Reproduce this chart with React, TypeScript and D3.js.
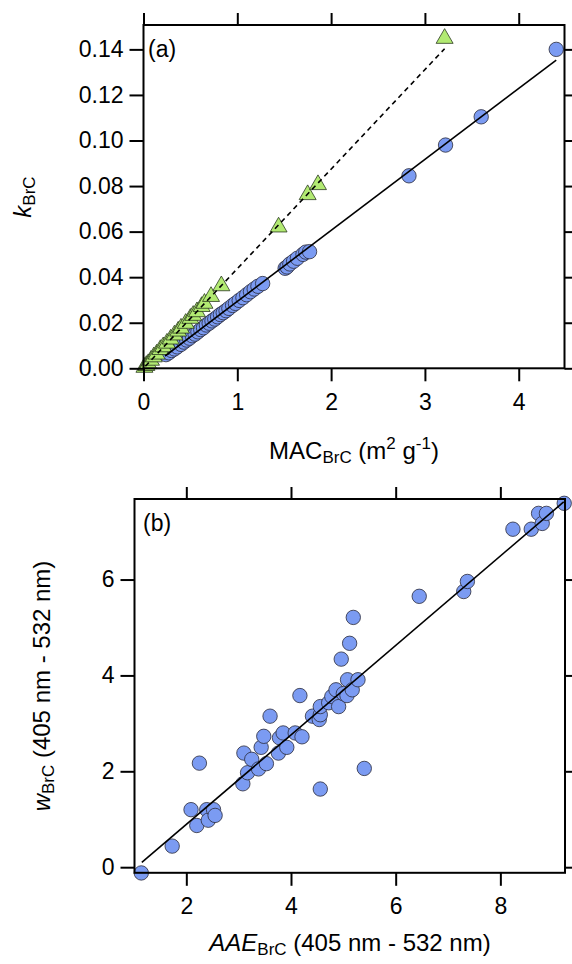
import React, { useEffect, useRef } from 'react';
import * as d3 from 'd3';

// panel (a): MAC_BrC vs k_BrC, circles
const macCircles = [0.24, 0.27, 0.30, 0.33, 0.36, 0.40, 0.43, 0.46, 0.49, 0.52, 0.55, 0.58, 0.61, 0.64, 0.67, 0.70, 0.73, 0.76, 0.79, 0.82, 0.85, 0.88, 0.91, 0.95, 0.98, 1.02, 1.06, 1.10, 1.14, 1.18, 1.22, 1.27, 1.51, 1.53, 1.56, 1.60, 1.64, 1.70, 1.73, 1.77, 2.83, 3.22, 3.60, 4.40];
const kCircles = [0.0060, 0.0068, 0.0078, 0.0085, 0.0094, 0.0105, 0.0115, 0.0124, 0.0132, 0.0143, 0.0150, 0.0160, 0.0170, 0.0178, 0.0190, 0.0198, 0.0208, 0.0216, 0.0226, 0.0236, 0.0244, 0.0253, 0.0263, 0.0276, 0.0285, 0.0298, 0.0310, 0.0323, 0.0336, 0.0348, 0.0360, 0.0372, 0.0439, 0.0445, 0.0458, 0.0470, 0.0483, 0.0500, 0.0510, 0.0512, 0.0845, 0.0980, 0.1104, 0.1400];

// panel (a): triangles
const macTri = [0.01, 0.03, 0.05, 0.08, 0.11, 0.14, 0.18, 0.21, 0.25, 0.29, 0.33, 0.37, 0.40, 0.45, 0.50, 0.53, 0.57, 0.62, 0.65, 0.72, 0.83, 1.44, 1.75, 1.86, 3.21];
const kTri = [0.0004, 0.0012, 0.0020, 0.0035, 0.0050, 0.0062, 0.0082, 0.0094, 0.0110, 0.0128, 0.0146, 0.0163, 0.0176, 0.0197, 0.0219, 0.0232, 0.0248, 0.0271, 0.0285, 0.0315, 0.0362, 0.0620, 0.0762, 0.0806, 0.1448];

// fit lines (start / end)
const fitCirclesA = [[0.23, 0.0054], [4.40, 0.1353]];
const fitTriA = [[0.02, 0.0009], [3.21, 0.1403]];

// panel (b): AAE_BrC vs w_BrC
const aae = [1.14, 1.73, 2.20, 2.09, 2.39, 2.42, 2.52, 2.55, 2.25, 3.08, 3.10, 3.17, 3.25, 3.38, 3.43, 3.48, 3.53, 3.60, 3.76, 3.78, 3.85, 3.92, 4.08, 4.17, 4.21, 4.41, 4.54, 4.56, 4.56, 4.56, 4.72, 4.78, 4.86, 4.91, 4.96, 5.00, 5.07, 5.08, 5.12, 5.17, 5.19, 5.28, 5.40, 6.45, 7.30, 7.37, 8.24, 8.59, 8.73, 8.80, 8.88, 9.22];
const wBrC = [-0.12, 0.44, 0.87, 1.20, 1.20, 0.98, 1.20, 1.08, 2.17, 1.74, 2.38, 1.97, 2.25, 2.05, 2.50, 2.73, 2.16, 3.15, 2.38, 2.70, 2.80, 2.50, 2.80, 3.58, 2.72, 3.15, 3.08, 3.18, 3.35, 1.63, 3.43, 3.56, 3.70, 3.35, 4.34, 3.62, 3.58, 3.91, 4.67, 3.70, 5.21, 3.91, 2.06, 5.65, 5.75, 5.96, 7.05, 7.05, 7.38, 7.17, 7.38, 7.59];
const fitB = [[1.15, 0.10], [9.21, 7.62]];

const ticksAX = [0, 1, 2, 3, 4];
const ticksAY = [0, 0.02, 0.04, 0.06, 0.08, 0.10, 0.12, 0.14];
const ticksBX = [2, 4, 6, 8];
const ticksBY = [0, 2, 4, 6];

const FONT = '"Liberation Sans", Arial, Helvetica, sans-serif';
const BLUE = '#7b9bf2';
const GREEN = '#b2ea72';

const App = () => {
  const svgRef = useRef<SVGSVGElement>(null);

  useEffect(() => {
    const svg = d3.select(svgRef.current);
    svg.selectAll('*').remove();
    svg.style('font-family', FONT);

    const axes = (x: any, y: any, xt: number[], yt: number[], yFmt: any) => {
      const [x0, x1] = x.range();
      const [y0, y1] = y.range();
      const g = svg.append('g');
      g.append('g').attr('transform', `translate(0,${y0})`)
        .call(d3.axisBottom(x).tickValues(xt).tickSize(13).tickSizeOuter(0).tickPadding(12).tickFormat(d3.format('d')));
      g.append('g').attr('transform', `translate(0,${y1})`)
        .call(d3.axisTop(x).tickValues(xt).tickSize(12).tickSizeOuter(0).tickFormat(() => ''));
      g.append('g').attr('transform', `translate(${x0},0)`)
        .call(d3.axisLeft(y).tickValues(yt).tickSize(14).tickSizeOuter(0).tickPadding(6).tickFormat(yFmt));
      g.append('g').attr('transform', `translate(${x1},0)`)
        .call(d3.axisRight(y).tickValues(yt).tickSize(12).tickSizeOuter(0).tickFormat(() => ''));
      g.selectAll('.domain').remove();
      g.selectAll('.tick line').attr('stroke', '#000').attr('stroke-width', 2);
      g.selectAll('.tick text').attr('fill', '#000').style('font-size', '23px').style('font-family', FONT);
      g.append('rect')
        .attr('x', x0).attr('y', y1).attr('width', x1 - x0).attr('height', y0 - y1)
        .attr('fill', 'none').attr('stroke', '#000').attr('stroke-width', 2);
    };

    const fitLine = (g: any, x: any, y: any, pts: number[][], dash?: string) => {
      g.append('path')
        .attr('d', d3.line().x((d: any) => x(d[0])).y((d: any) => y(d[1]))(pts as any))
        .attr('stroke', '#000').attr('stroke-width', 1.6).attr('fill', 'none')
        .attr('stroke-dasharray', dash || null);
    };

    // ---- panel (a)
    const xA = d3.scaleLinear().domain([0, 4.488]).range([143.5, 564.5]);
    const yA = d3.scaleLinear().domain([0, 0.1507]).range([368.3, 25]);
    const gA = svg.append('g');
    gA.selectAll('circle').data(macCircles).enter().append('circle')
      .attr('cx', d => xA(d)).attr('cy', (d, i) => yA(kCircles[i]))
      .attr('r', 7.2).attr('fill', BLUE).attr('stroke', '#2b2b3a').attr('stroke-width', 0.8);
    const tri = d3.symbol().type(d3.symbolTriangle).size(125);
    gA.selectAll('path.tri').data(macTri).enter().append('path')
      .attr('class', 'tri')
      .attr('d', tri as any)
      .attr('transform', (d, i) => `translate(${xA(d)},${yA(kTri[i])})`)
      .attr('fill', GREEN).attr('stroke', '#2b3a20').attr('stroke-width', 0.8);
    fitLine(gA, xA, yA, fitCirclesA);
    fitLine(gA, xA, yA, fitTriA, '5,4');
    axes(xA, yA, ticksAX, ticksAY, d3.format('.2f'));

    gA.append('text').attr('x', 148).attr('y', 57).style('font-size', '23px').text('(a)');

    const tA = svg.append('text').attr('x', 354).attr('y', 459).attr('text-anchor', 'middle').style('font-size', '24px');
    tA.append('tspan').text('MAC');
    tA.append('tspan').attr('dy', 4).style('font-size', '17px').text('BrC');
    tA.append('tspan').attr('dy', -4).text(' (m');
    tA.append('tspan').attr('dy', -10).style('font-size', '17px').text('2');
    tA.append('tspan').attr('dy', 10).text(' g');
    tA.append('tspan').attr('dy', -10).style('font-size', '17px').text('-1');
    tA.append('tspan').attr('dy', 10).text(')');

    const yTA = svg.append('text').attr('transform', 'translate(31,197) rotate(-90)').attr('text-anchor', 'middle').style('font-size', '24px');
    yTA.append('tspan').style('font-style', 'italic').text('k');
    yTA.append('tspan').attr('dy', 4).style('font-size', '17px').text('BrC');

    // ---- panel (b)
    const xB = d3.scaleLinear().domain([1.01, 9.235]).range([134.5, 565]);
    const yB = d3.scaleLinear().domain([-0.117, 7.68]).range([872.8, 499]);
    const gB = svg.append('g');
    gB.selectAll('circle').data(aae).enter().append('circle')
      .attr('cx', d => xB(d)).attr('cy', (d, i) => yB(wBrC[i]))
      .attr('r', 7.2).attr('fill', BLUE).attr('stroke', '#2b2b3a').attr('stroke-width', 0.8);
    fitLine(gB, xB, yB, fitB);
    axes(xB, yB, ticksBX, ticksBY, d3.format('d'));

    gB.append('text').attr('x', 143).attr('y', 531).style('font-size', '23px').text('(b)');

    const tB = svg.append('text').attr('x', 350).attr('y', 951).attr('text-anchor', 'middle').style('font-size', '24px');
    tB.append('tspan').style('font-style', 'italic').text('AAE');
    tB.append('tspan').attr('dy', 4).style('font-size', '17px').text('BrC');
    tB.append('tspan').attr('dy', -4).text(' (405 nm - 532 nm)');

    const yTB = svg.append('text').attr('transform', 'translate(50,686) rotate(-90)').attr('text-anchor', 'middle').style('font-size', '24px');
    yTB.append('tspan').style('font-style', 'italic').text('w');
    yTB.append('tspan').attr('dy', 4).style('font-size', '17px').text('BrC');
    yTB.append('tspan').attr('dy', -4).text(' (405 nm - 532 nm)');
  }, []);

  return (
    <svg ref={svgRef} width={572} height={964}
      style={{ position: 'absolute', left: 0, top: 0, background: '#fff' }} />
  );
};

export default App;
